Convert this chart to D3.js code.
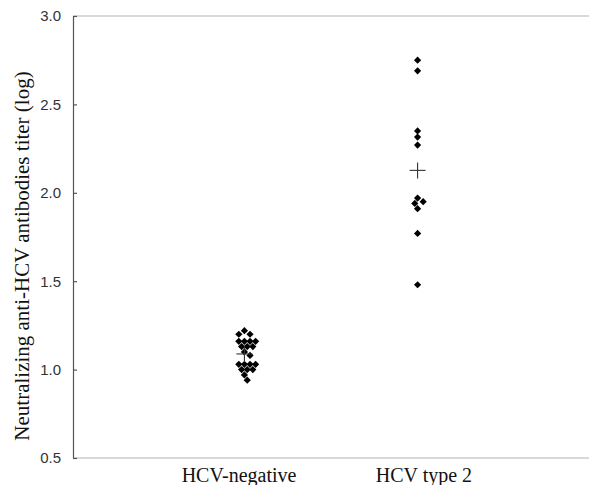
<!DOCTYPE html>
<html>
<head>
<meta charset="utf-8">
<script src="https://cdn.jsdelivr.net/npm/d3@7"></script>
<style>
  html, body { margin: 0; padding: 0; background: #fff; }
  svg { display: block; }
</style>
</head>
<body>
<svg id="chart" width="589" height="485"></svg>
<script>
// ---- data ----
const categories = ["HCV-negative", "HCV type 2"];
const hcvNegative = [1.22, 1.20, 1.20, 1.16, 1.16, 1.16, 1.16, 1.13, 1.13, 1.13,
                     1.10, 1.08, 1.03, 1.03, 1.03, 1.03, 1.00, 1.00, 1.00, 0.97, 0.94];
const hcvType2 = [2.75, 2.69, 2.35, 2.315, 2.27, 1.97, 1.95, 1.94, 1.91, 1.77, 1.48];
const yTicks = [0.5, 1.0, 1.5, 2.0, 2.5, 3.0];
const yTitle = "Neutralizing anti-HCV antibodies titer (log)";

const groups = [
  { cat: categories[0], values: hcvNegative },
  { cat: categories[1], values: hcvType2 }
];

// ---- layout ----
const svg = d3.select("#chart");
const margin = { left: 73, top: 16, right: 0, bottom: 27 };
const W = 589, H = 485;

const y = d3.scaleLinear().domain([0.5, 3.0]).range([H - margin.bottom, margin.top]);
const x = d3.scalePoint().domain(categories).range([margin.left, W]).padding(0.99);
const xLabel = d3.scalePoint().domain(categories).range([margin.left, W]).padding(0.895);

// frame lines (top and bottom)
svg.append("line")
  .attr("x1", margin.left).attr("x2", W)
  .attr("y1", y(3.0)).attr("y2", y(3.0))
  .attr("stroke", "#b4b4b4").attr("stroke-width", 1.2);
svg.append("line")
  .attr("x1", margin.left).attr("x2", W)
  .attr("y1", y(0.5)).attr("y2", y(0.5))
  .attr("stroke", "#b4b4b4").attr("stroke-width", 1.2);

// y axis (ticks inward)
const yAxis = d3.axisLeft(y).tickValues(yTicks).tickFormat(d3.format(".1f"))
  .tickSizeInner(-4).tickSizeOuter(0).tickPadding(12);
const gy = svg.append("g").attr("transform", `translate(${margin.left},0)`).call(yAxis);
gy.select(".domain").attr("stroke", "#555").attr("stroke-width", 1.2);
gy.selectAll(".tick line").attr("stroke", "#555").attr("stroke-width", 1.2);
gy.selectAll(".tick text")
  .attr("font-family", "Liberation Sans, Arial, sans-serif")
  .attr("font-size", 15).attr("fill", "#333");

// x category labels
const xAxis = d3.axisBottom(xLabel).tickSize(0).tickPadding(10);
const gx = svg.append("g").attr("transform", `translate(0,${y(0.5)})`).call(xAxis);
gx.select(".domain").remove();
gx.selectAll(".tick text")
  .attr("font-family", "Liberation Serif, Times New Roman, serif")
  .attr("font-size", 20).attr("fill", "#111");

// y title
svg.append("text")
  .attr("transform", `translate(22,256) rotate(-90)`)
  .attr("text-anchor", "middle")
  .attr("dominant-baseline", "central")
  .attr("font-family", "Liberation Serif, Times New Roman, serif")
  .attr("font-size", 21).attr("fill", "#111")
  .text(yTitle);

// ---- dodge placement (beeswarm-like) ----
const half = 2.8, diam = 5.5;
function dodge(values, cx) {
  const placed = [];
  const order = values.map((v, i) => i).sort((a, b) => values[b] - values[a]);
  order.forEach(i => {
    const py = y(values[i]);
    for (let k = 0; k < 40; k++) {
      const off = (k === 0 ? 0 : (k % 2 ? Math.ceil(k / 2) : -Math.ceil(k / 2))) * half;
      const px = cx + off;
      const ok = placed.every(p => Math.hypot(p.x - px, p.y - py) >= diam);
      if (ok) { placed.push({ x: px, y: py }); break; }
    }
  });
  return placed;
}

const diamond = d3.symbol().type(d3.symbolSquare).size(26)();

groups.forEach(g => {
  const cx = x(g.cat);
  const pts = dodge(g.values, cx);
  svg.append("g").selectAll("path").data(pts).join("path")
    .attr("d", diamond)
    .attr("transform", d => `translate(${d.x},${d.y}) rotate(45)`)
    .attr("fill", "#000");
  // mean cross
  const m = d3.mean(g.values);
  const cg = svg.append("g").attr("stroke", "#333").attr("stroke-width", 1.1);
  cg.append("line").attr("x1", cx - 8).attr("x2", cx + 8).attr("y1", y(m)).attr("y2", y(m));
  cg.append("line").attr("x1", cx).attr("x2", cx).attr("y1", y(m) - 8).attr("y2", y(m) + 8);
});
</script>
</body>
</html>
